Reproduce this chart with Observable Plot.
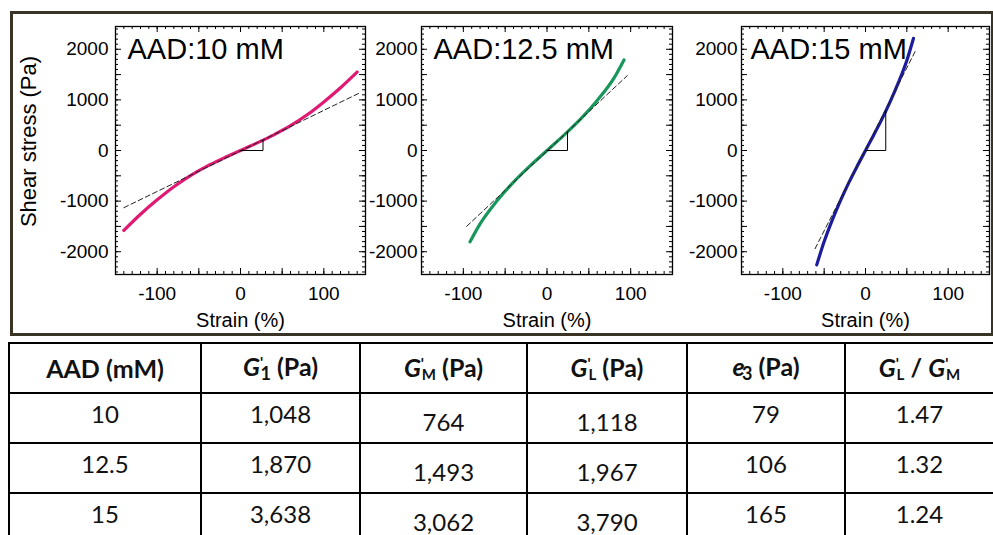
<!DOCTYPE html>
<html><head><meta charset="utf-8">
<script src="https://cdn.jsdelivr.net/npm/d3@7"></script>
<script src="https://cdn.jsdelivr.net/npm/@observablehq/plot@0.6"></script>
<style>
html,body{margin:0;padding:0;background:#fff;}
body{width:993px;height:535px;overflow:hidden;position:relative;font-family:"Liberation Sans",Arial,sans-serif;}
#box{position:absolute;left:10px;top:11px;width:978px;height:319px;border:3px solid #3a3426;}
.panel{position:absolute;top:0;}
table{position:absolute;left:8px;top:342px;width:985px;border-collapse:collapse;table-layout:fixed;font-family:Lato,"Noto Sans",sans-serif;color:#111;}
td,th{border:2px solid #000;height:48px;text-align:center;padding:0;font-size:24px;line-height:1;}
th{font-weight:bold;font-size:25px;}
th sup{font-size:0.6em;vertical-align:0.55em;}
th sub{font-size:0.72em;vertical-align:-0.2em;margin-left:-0.15em;}
th sub.s{font-size:0.6em;}
.up{position:relative;top:-4px;}
.dn{position:relative;top:4px;}
</style></head>
<body>
<div id="box"></div>
<div id="plots"></div>
<table id="tbl"></table>
<script>
// ---- curve data (strain %, shear stress Pa) ----
const strain10 = [-140,-120,-100,-80,-60,-40,-20,0,20,40,60,80,100,120,140];
const stress10 = [-1580,-1260,-975,-715,-495,-310,-150,0,150,310,490,705,960,1240,1550];
const dash10X = [-140,142];
const dash10Y = [-1130,1130];
const tri10X = [0,27,27];
const tri10Y = [0,0,200];

const strain12 = [-92,-80,-60,-40,-20,0,20,40,60,80,92];
const stress12 = [-1805,-1450,-1000,-625,-300,0,300,620,990,1430,1790];
const dash12X = [-96,96];
const dash12Y = [-1498,1480];
const tri12X = [0,24.5,24.5];
const tri12Y = [0,0,360];

const strain15 = [-59,-50,-40,-30,-20,-10,0,10,20,30,40,50,58];
const stress15 = [-2260,-1800,-1365,-980,-630,-308,0,308,625,970,1350,1780,2215];
const dash15X = [-61,61];
const dash15Y = [-1940,1987];
const tri15X = [0,24.5,24.5];
const tri15Y = [0,0,780];

const xTickLabels = [-100,0,100];
const yTickLabels = [-2000,-1000,0,1000,2000];

// ---- table data ----
const tHeaders = ["AAD (mM)",
  "<i>G</i><sup>'</sup><sub>1</sub> (Pa)",
  "<i>G</i><sup>'</sup><sub class='s'>M</sub> (Pa)",
  "<i>G</i><sup>'</sup><sub class='s'>L</sub> (Pa)",
  "<i>e</i><sub>3</sub> (Pa)",
  "<i>G</i><sup>'</sup><sub class='s'>L</sub> / <i>G</i><sup>'</sup><sub class='s'>M</sub>"];
const aad = ["10","12.5","15"];
const g1 = ["1,048","1,870","3,638"];
const gM = ["764","1,493","3,062"];
const gL = ["1,118","1,967","3,790"];
const e3 = ["79","106","165"];
const ratio = ["1.47","1.32","1.24"];

const panels = [
  {label:"AAD:10 mM", sx:strain10, sy:stress10, dx:dash10X, dy:dash10Y, tx:tri10X, ty:tri10Y, color:"#e01a73", left:0, mL:115, fw:250, mR:10, yl:true, tdx:-7, ldx:12},
  {label:"AAD:12.5 mM", sx:strain12, sy:stress12, dx:dash12X, dy:dash12Y, tx:tri12X, ty:tri12Y, color:"#17975b", left:365, mL:56, fw:251, mR:8, yl:false, tdx:-4, ldx:12},
  {label:"AAD:15 mM", sx:strain15, sy:stress15, dx:dash15X, dy:dash15Y, tx:tri15X, ty:tri15Y, color:"#1c1c9c", left:685, mL:56, fw:248, mR:4, yl:false, tdx:-4, ldx:9}
];

const mT = 26, fh = 248, mB = 61;
const xMinor = d3.range(-150, 151, 10), xMajor = d3.range(-150, 151, 50);
const yMinor = d3.range(-2400, 2401, 100), yMajor = d3.range(-2000, 2001, 500);
const pts = (xs, ys) => xs.map((v, i) => ({x: v, y: ys[i]}));

for (const p of panels) {
  const marks = [
    Plot.ruleX(xMinor, {x: d => d, insetTop: fh - 3, stroke: "#000"}),
    Plot.ruleX(xMajor, {x: d => d, insetTop: fh - 6, stroke: "#000"}),
    Plot.ruleX(xMinor, {x: d => d, insetBottom: fh - 3, stroke: "#000"}),
    Plot.ruleX(xMajor, {x: d => d, insetBottom: fh - 6, stroke: "#000"}),
    Plot.ruleY(yMinor, {y: d => d, insetRight: p.fw - 3, stroke: "#000"}),
    Plot.ruleY(yMajor, {y: d => d, insetRight: p.fw - 6, stroke: "#000"}),
    Plot.ruleY(yMinor, {y: d => d, insetLeft: p.fw - 3, stroke: "#000"}),
    Plot.ruleY(yMajor, {y: d => d, insetLeft: p.fw - 6, stroke: "#000"}),
    Plot.frame({stroke: "#000", strokeWidth: 1.3}),
    Plot.line(pts(p.sx, p.sy), {x: "x", y: "y", stroke: p.color, strokeWidth: 3.2, curve: "monotone-x"}),
    Plot.line(pts(p.dx, p.dy), {x: "x", y: "y", stroke: "#222", strokeWidth: 1, strokeDasharray: "5,3"}),
    Plot.line(pts(p.tx, p.ty), {x: "x", y: "y", stroke: "#000", strokeWidth: 1}),
    Plot.text(xTickLabels, {x: d => d, text: d => String(d), frameAnchor: "bottom", dy: 19, lineAnchor: "middle", fontSize: 19, fill: "#000"}),
    Plot.text(yTickLabels, {y: d => d, text: d => String(d), frameAnchor: "left", dx: p.tdx, textAnchor: "end", fontSize: 19, fill: "#000"}),
    Plot.text(["Strain (%)"], {frameAnchor: "bottom", dy: 46, lineAnchor: "middle", textAnchor: "middle", fontSize: 20, fill: "#000"}),
    Plot.text([p.label], {frameAnchor: "top-left", dx: p.ldx, dy: 12, lineAnchor: "top", textAnchor: "start", fontSize: 29, fill: "#000"})
  ];
  if (p.yl) marks.push(Plot.text(["Shear stress (Pa)"], {frameAnchor: "left", rotate: -90, dx: -87, dy: -9, textAnchor: "middle", lineAnchor: "middle", fontSize: 22, fill: "#000"}));
  const chart = Plot.plot({
    width: p.mL + p.fw + p.mR, height: mT + fh + mB,
    marginLeft: p.mL, marginRight: p.mR, marginTop: mT, marginBottom: mB,
    x: {domain: [-150, 150], axis: null},
    y: {domain: [-2450, 2450], axis: null},
    style: {background: "transparent", overflow: "visible", fontFamily: "'Liberation Sans', Arial, sans-serif"},
    marks
  });
  const div = document.createElement("div");
  div.className = "panel";
  div.style.left = p.left + "px";
  div.appendChild(chart);
  document.getElementById("plots").appendChild(div);
}

// ---- table ----
const widths = [192,159,167,160,158,149];
const tbl = document.getElementById("tbl");
let html = "<colgroup>" + widths.map(w => `<col style="width:${w}px">`).join("") + "</colgroup>";
html += "<tr>" + tHeaders.map(h => `<th>${h}</th>`).join("") + "</tr>";
for (let i = 0; i < aad.length; i++) {
  const cells = [[aad[i],"up"],[g1[i],"up"],[gM[i],"dn"],[gL[i],"dn"],[e3[i],"up"],[ratio[i],"up"]];
  html += "<tr>" + cells.map(([v,c]) => `<td><span class="${c}">${v}</span></td>`).join("") + "</tr>";
}
tbl.innerHTML = html;
</script>
</body></html>
